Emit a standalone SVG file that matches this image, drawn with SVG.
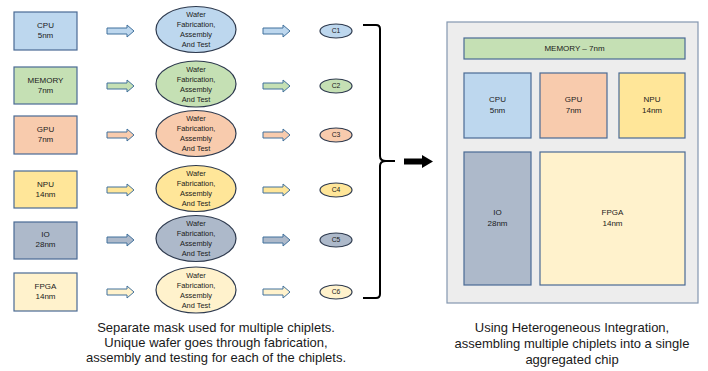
<svg xmlns="http://www.w3.org/2000/svg" width="708" height="371" viewBox="0 0 708 371">
<defs>
<style>
text{font-family:"Liberation Sans",Arial,sans-serif;fill:#1a1a1a;text-anchor:middle}
.sm{font-size:8px}
.el{font-size:7.4px}
.co{font-size:6.8px}
.cap{font-size:13px}
.box{stroke:#4a6a94;stroke-width:1.2}
.ell{stroke:#2e3a4e;stroke-width:1.2}
.arr{stroke:#41719c;stroke-width:1}
.blue{fill:#bdd7ee}.green{fill:#c5e0b4}.orange{fill:#f8cbad}.yellow{fill:#ffe699}.gray{fill:#adb9ca}.cream{fill:#fff2cc}
</style>
<path id="sa" d="M0,-3 H20 V-6 L27,0 L20,6 V3 H0 Z"/>
</defs>
<rect width="708" height="371" fill="#ffffff"/>

<g id="row-cpu">
<rect class="box blue" x="14" y="12" width="63" height="38"/>
<text class="sm" x="45.5" y="28">CPU</text><text class="sm" x="45.5" y="38">5nm</text>
<use href="#sa" class="arr blue" x="107" y="31"/>
<ellipse class="ell blue" cx="196" cy="29.5" rx="40" ry="23"/>
<text class="el" x="196" y="17">Wafer</text><text class="el" x="196" y="27">Fabrication,</text><text class="el" x="196" y="37">Assembly</text><text class="el" x="196" y="47">And Test</text>
<use href="#sa" class="arr blue" x="263" y="31"/>
<ellipse class="ell blue" cx="336" cy="31" rx="16" ry="7"/>
<text class="co" x="336" y="33.4">C1</text>
</g>

<g id="row-memory">
<rect class="box green" x="14" y="67" width="63" height="37"/>
<text class="sm" x="45.5" y="83">MEMORY</text><text class="sm" x="45.5" y="93">7nm</text>
<use href="#sa" class="arr green" x="107" y="86"/>
<ellipse class="ell green" cx="196" cy="84" rx="40" ry="23"/>
<text class="el" x="196" y="71.5">Wafer</text><text class="el" x="196" y="81.5">Fabrication,</text><text class="el" x="196" y="91.5">Assembly</text><text class="el" x="196" y="101.5">And Test</text>
<use href="#sa" class="arr green" x="263" y="86"/>
<ellipse class="ell green" cx="336" cy="86" rx="16" ry="7"/>
<text class="co" x="336" y="88.4">C2</text>
</g>

<g id="row-gpu">
<rect class="box orange" x="14" y="116" width="63" height="38"/>
<text class="sm" x="45.5" y="132">GPU</text><text class="sm" x="45.5" y="142">7nm</text>
<use href="#sa" class="arr orange" x="107" y="135"/>
<ellipse class="ell orange" cx="196" cy="133.5" rx="40" ry="23"/>
<text class="el" x="196" y="121">Wafer</text><text class="el" x="196" y="131">Fabrication,</text><text class="el" x="196" y="141">Assembly</text><text class="el" x="196" y="151">And Test</text>
<use href="#sa" class="arr orange" x="263" y="135"/>
<ellipse class="ell orange" cx="336" cy="135" rx="16" ry="7"/>
<text class="co" x="336" y="137.4">C3</text>
</g>

<g id="row-npu">
<rect class="box yellow" x="14" y="171" width="63" height="37"/>
<text class="sm" x="45.5" y="187">NPU</text><text class="sm" x="45.5" y="197">14nm</text>
<use href="#sa" class="arr yellow" x="107" y="190"/>
<ellipse class="ell yellow" cx="196" cy="188.5" rx="40" ry="23"/>
<text class="el" x="196" y="176">Wafer</text><text class="el" x="196" y="186">Fabrication,</text><text class="el" x="196" y="196">Assembly</text><text class="el" x="196" y="206">And Test</text>
<use href="#sa" class="arr yellow" x="263" y="190"/>
<ellipse class="ell yellow" cx="336" cy="190" rx="16" ry="7"/>
<text class="co" x="336" y="192.4">C4</text>
</g>

<g id="row-io">
<rect class="box gray" x="14" y="222" width="63" height="37"/>
<text class="sm" x="45.5" y="237">IO</text><text class="sm" x="45.5" y="247">28nm</text>
<use href="#sa" class="arr gray" x="107" y="240"/>
<ellipse class="ell gray" cx="196" cy="238.5" rx="40" ry="23"/>
<text class="el" x="196" y="226">Wafer</text><text class="el" x="196" y="236">Fabrication,</text><text class="el" x="196" y="246">Assembly</text><text class="el" x="196" y="256">And Test</text>
<use href="#sa" class="arr gray" x="263" y="240"/>
<ellipse class="ell gray" cx="336" cy="240" rx="16" ry="7"/>
<text class="co" x="336" y="242.4">C5</text>
</g>

<g id="row-fpga">
<rect class="box cream" x="14" y="273" width="63" height="38"/>
<text class="sm" x="45.5" y="289">FPGA</text><text class="sm" x="45.5" y="299">14nm</text>
<use href="#sa" class="arr cream" x="107" y="292"/>
<ellipse class="ell cream" cx="196" cy="290" rx="40" ry="23"/>
<text class="el" x="196" y="277.5">Wafer</text><text class="el" x="196" y="287.5">Fabrication,</text><text class="el" x="196" y="297.5">Assembly</text><text class="el" x="196" y="307.5">And Test</text>
<use href="#sa" class="arr cream" x="263" y="292"/>
<ellipse class="ell cream" cx="336" cy="292" rx="16" ry="7"/>
<text class="co" x="336" y="294.4">C6</text>
</g>

<g id="connectors">
<path d="M363,25 H376 Q380,25 380,29 V156 Q380,161 386,161 H395 M380,166 Q380,161 386,161 M380,166 V294 Q380,298 376,298 H363" fill="none" stroke="#000" stroke-width="2"/>
<path d="M404,158.5 H422 V155 L433,161.5 L422,168 V164.5 H404 Z" fill="#000"/>
</g>

<g id="chip">
<rect x="447" y="22" width="251" height="281" fill="#ededed" stroke="#8497b0" stroke-width="1.2"/>
</g>
<g id="chip-memory">
<rect class="box green" x="464" y="38" width="221" height="21"/>
<text class="sm" x="574.5" y="51">MEMORY – 7nm</text>
</g>
<g id="chip-cpu">
<rect class="box blue" x="464" y="73" width="67" height="65"/>
<text class="sm" x="497.5" y="102">CPU</text><text class="sm" x="497.5" y="113">5nm</text>
</g>
<g id="chip-gpu">
<rect class="box orange" x="540" y="73" width="67" height="65"/>
<text class="sm" x="573.5" y="102">GPU</text><text class="sm" x="573.5" y="113">7nm</text>
</g>
<g id="chip-npu">
<rect class="box yellow" x="619" y="73" width="66" height="65"/>
<text class="sm" x="652" y="102">NPU</text><text class="sm" x="652" y="113">14nm</text>
</g>
<g id="chip-io">
<rect class="box gray" x="464" y="152" width="67" height="133"/>
<text class="sm" x="497.5" y="215">IO</text><text class="sm" x="497.5" y="226">28nm</text>
</g>
<g id="chip-fpga">
<rect class="box cream" x="540" y="152" width="145" height="133"/>
<text class="sm" x="612.5" y="215">FPGA</text><text class="sm" x="612.5" y="226">14nm</text>
</g>

<g id="captions">
<text class="cap" x="216" y="332">Separate mask used for multiple chiplets.</text>
<text class="cap" x="216" y="347">Unique wafer goes through fabrication,</text>
<text class="cap" x="216" y="362">assembly and testing for each of the chiplets.</text>
<text class="cap" x="572" y="332">Using Heterogeneous Integration,</text>
<text class="cap" x="572" y="348">assembling multiple chiplets into a single</text>
<text class="cap" x="572" y="364">aggregated chip</text>
</g>
</svg>
